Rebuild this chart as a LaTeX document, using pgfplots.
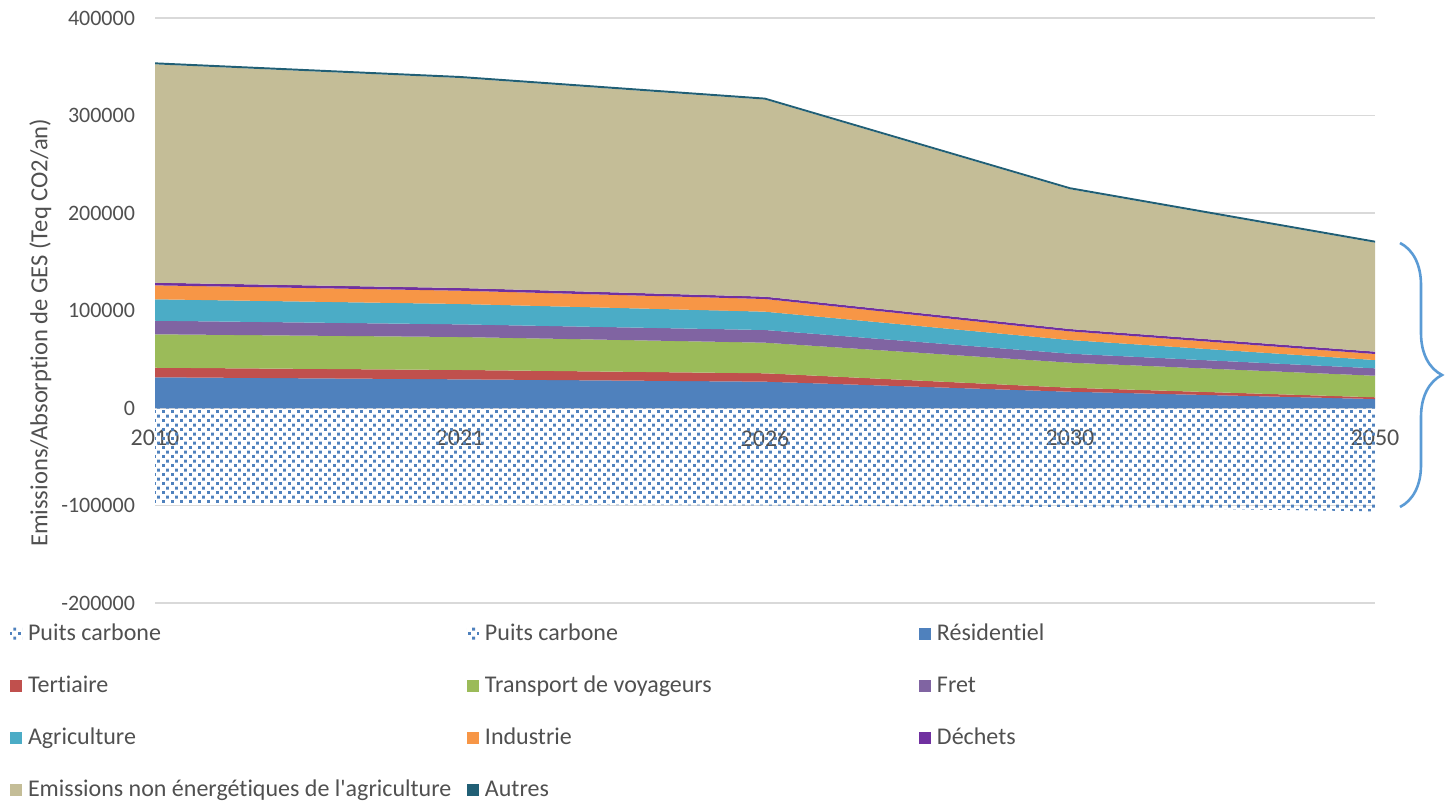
\documentclass[border=0pt]{standalone}
\usepackage{fontspec}
\setmainfont{Carlito}[Ligatures=CommonOff]
\newfontfamily\carlitoplain{Carlito}[Ligatures=CommonOff]
\usepackage{pgfplots}
\pgfplotsset{compat=1.18}
\usetikzlibrary{patterns,decorations.pathreplacing}

\definecolor{resblue}{HTML}{4F81BD}
\definecolor{tertred}{HTML}{C0504D}
\definecolor{transgreen}{HTML}{9BBB59}
\definecolor{fretpurple}{HTML}{8064A2}
\definecolor{agricyan}{HTML}{4BACC6}
\definecolor{indorange}{HTML}{F79646}
\definecolor{dechpurple}{HTML}{7030A0}
\definecolor{khaki}{HTML}{C4BD97}
\definecolor{autresteal}{HTML}{215F75}
\definecolor{puitsblue}{HTML}{4F81BD}
\definecolor{txtgray}{HTML}{505050}
\definecolor{gridgray}{HTML}{D9D9D9}
\definecolor{bracecol}{HTML}{5B9BD5}

\pgfdeclarepatternformonly{confetti}{\pgfqpoint{0pt}{0pt}}{\pgfqpoint{4.5pt}{4.7pt}}{\pgfqpoint{4.5pt}{4.7pt}}{%
  \pgfpathrectangle{\pgfqpoint{0pt}{0pt}}{\pgfqpoint{1.55pt}{1.55pt}}%
  \pgfpathrectangle{\pgfqpoint{2.25pt}{2.35pt}}{\pgfqpoint{1.55pt}{1.55pt}}%
  \pgfusepath{fill}%
}

\begin{document}
\begin{tikzpicture}[x=1pt,y=1pt]
\path[use as bounding box] (0,0) rectangle (724,401.5);
\begin{axis}[
  at={(77.5pt,100pt)}, anchor=south west,
  scale only axis, width=610pt, height=292.5pt,
  xmin=0, xmax=4, ymin=-200000, ymax=400000,
  axis x line=middle, axis y line=left,
  axis line style={draw=none},
  hide obscured x ticks=false, hide obscured y ticks=false,
  scaled x ticks=false, scaled y ticks=false,
  xtick={0,1,2,3,4}, xticklabels={2010,2021,2026,2030,2050},
  ytick={-200000,-100000,0,100000,200000,300000,400000},
  yticklabels={-200000,-100000,0,100000,200000,300000,400000},
  major tick length=0pt, tick style={draw=none},
  ymajorgrids, grid style={color=gridgray, line width=0.75pt},
  xticklabel style={font=\fontsize{12}{14}\selectfont, text=txtgray, yshift=-7.5pt},
  yticklabel style={font=\fontsize{11}{13}\selectfont, text=txtgray, xshift=-6.5pt},
  every axis y label/.style={at={(axis description cs:-0.094,0.462)}, rotate=90, anchor=center, font=\fontsize{12.3}{14}\selectfont, text=txtgray},
  ylabel={Emissions/Absorption de GES (Teq CO2/an)},
  legend columns=3,
  legend cell align=left,
  legend image code/.code={\path[#1] (0pt,-3pt) rectangle (6pt,3pt);},
  legend style={at={(-0.11885,-0.008547)}, anchor=north west, draw=none, fill=none,
    inner sep=0pt, outer sep=0pt, row sep=0pt, column sep=0pt,
    nodes={inner sep=0pt, text height=16.5pt, text depth=9.5pt, font=\fontsize{12}{14}\selectfont, text=txtgray},
    /tikz/every odd column/.append style={column sep=3pt}},
]
% legend
\addlegendimage{pattern=confetti, pattern color=puitsblue, draw=none}
\addlegendentry{\makebox[219.5pt][l]{Puits carbone}}
\addlegendimage{pattern=confetti, pattern color=puitsblue, draw=none}
\addlegendentry{\makebox[217pt][l]{Puits carbone}}
\addlegendimage{fill=resblue, draw=none}
\addlegendentry{Résidentiel}
\addlegendimage{fill=tertred, draw=none}
\addlegendentry{\makebox[219.5pt][l]{Tertiaire}}
\addlegendimage{fill=transgreen, draw=none}
\addlegendentry{\makebox[217pt][l]{Transport de voyageurs}}
\addlegendimage{fill=fretpurple, draw=none}
\addlegendentry{Fret}
\addlegendimage{fill=agricyan, draw=none}
\addlegendentry{\makebox[219.5pt][l]{Agriculture}}
\addlegendimage{fill=indorange, draw=none}
\addlegendentry{\makebox[217pt][l]{Industrie}}
\addlegendimage{fill=dechpurple, draw=none}
\addlegendentry{Déchets}
\addlegendimage{fill=khaki, draw=none}
\addlegendentry{\makebox[219.5pt][l]{\carlitoplain Emissions non énergétiques de l'agriculture}}
\addlegendimage{fill=autresteal, draw=none}
\addlegendentry{\makebox[217pt][l]{Autres}}

% stacked emissions
\addplot[stack plots=y, fill=resblue, draw=none, forget plot] coordinates {(0,31500)(1,29400)(2,27000)(3,16700)(4,9200)} \closedcycle;
\addplot[stack plots=y, fill=tertred, draw=none, forget plot] coordinates {(0,9800)(1,9600)(2,8600)(3,4100)(4,1800)} \closedcycle;
\addplot[stack plots=y, fill=transgreen, draw=none, forget plot] coordinates {(0,34300)(1,33800)(2,31400)(3,25700)(4,22100)} \closedcycle;
\addplot[stack plots=y, fill=fretpurple, draw=none, forget plot] coordinates {(0,13900)(1,13000)(2,13000)(3,9200)(4,7600)} \closedcycle;
\addplot[stack plots=y, fill=agricyan, draw=none, forget plot] coordinates {(0,22000)(1,20900)(2,18800)(3,14000)(4,8500)} \closedcycle;
\addplot[stack plots=y, fill=indorange, draw=none, forget plot] coordinates {(0,14300)(1,13600)(2,13000)(3,8900)(4,6200)} \closedcycle;
\addplot[stack plots=y, fill=dechpurple, draw=none, forget plot] coordinates {(0,2700)(1,2800)(2,2400)(3,2400)(4,2400)} \closedcycle;
\addplot[stack plots=y, fill=khaki, draw=none, forget plot] coordinates {(0,224000)(1,215400)(2,202100)(3,143400)(4,111800)} \closedcycle;
\addplot[stack plots=y, fill=autresteal, draw=none, forget plot] coordinates {(0,2000)(1,2000)(2,2000)(3,2000)(4,2000)} \closedcycle;
% carbon sink
\addplot[pattern=confetti, pattern color=puitsblue, draw=none, forget plot] coordinates {(0,-97500)(1,-99000)(2,-100000)(3,-101500)(4,-106000)} \closedcycle;
\end{axis}
\draw[decorate, decoration={brace, amplitude=21pt}, color=bracecol, line width=1.3pt] (700,280) -- (700,148);
\end{tikzpicture}
\end{document}
